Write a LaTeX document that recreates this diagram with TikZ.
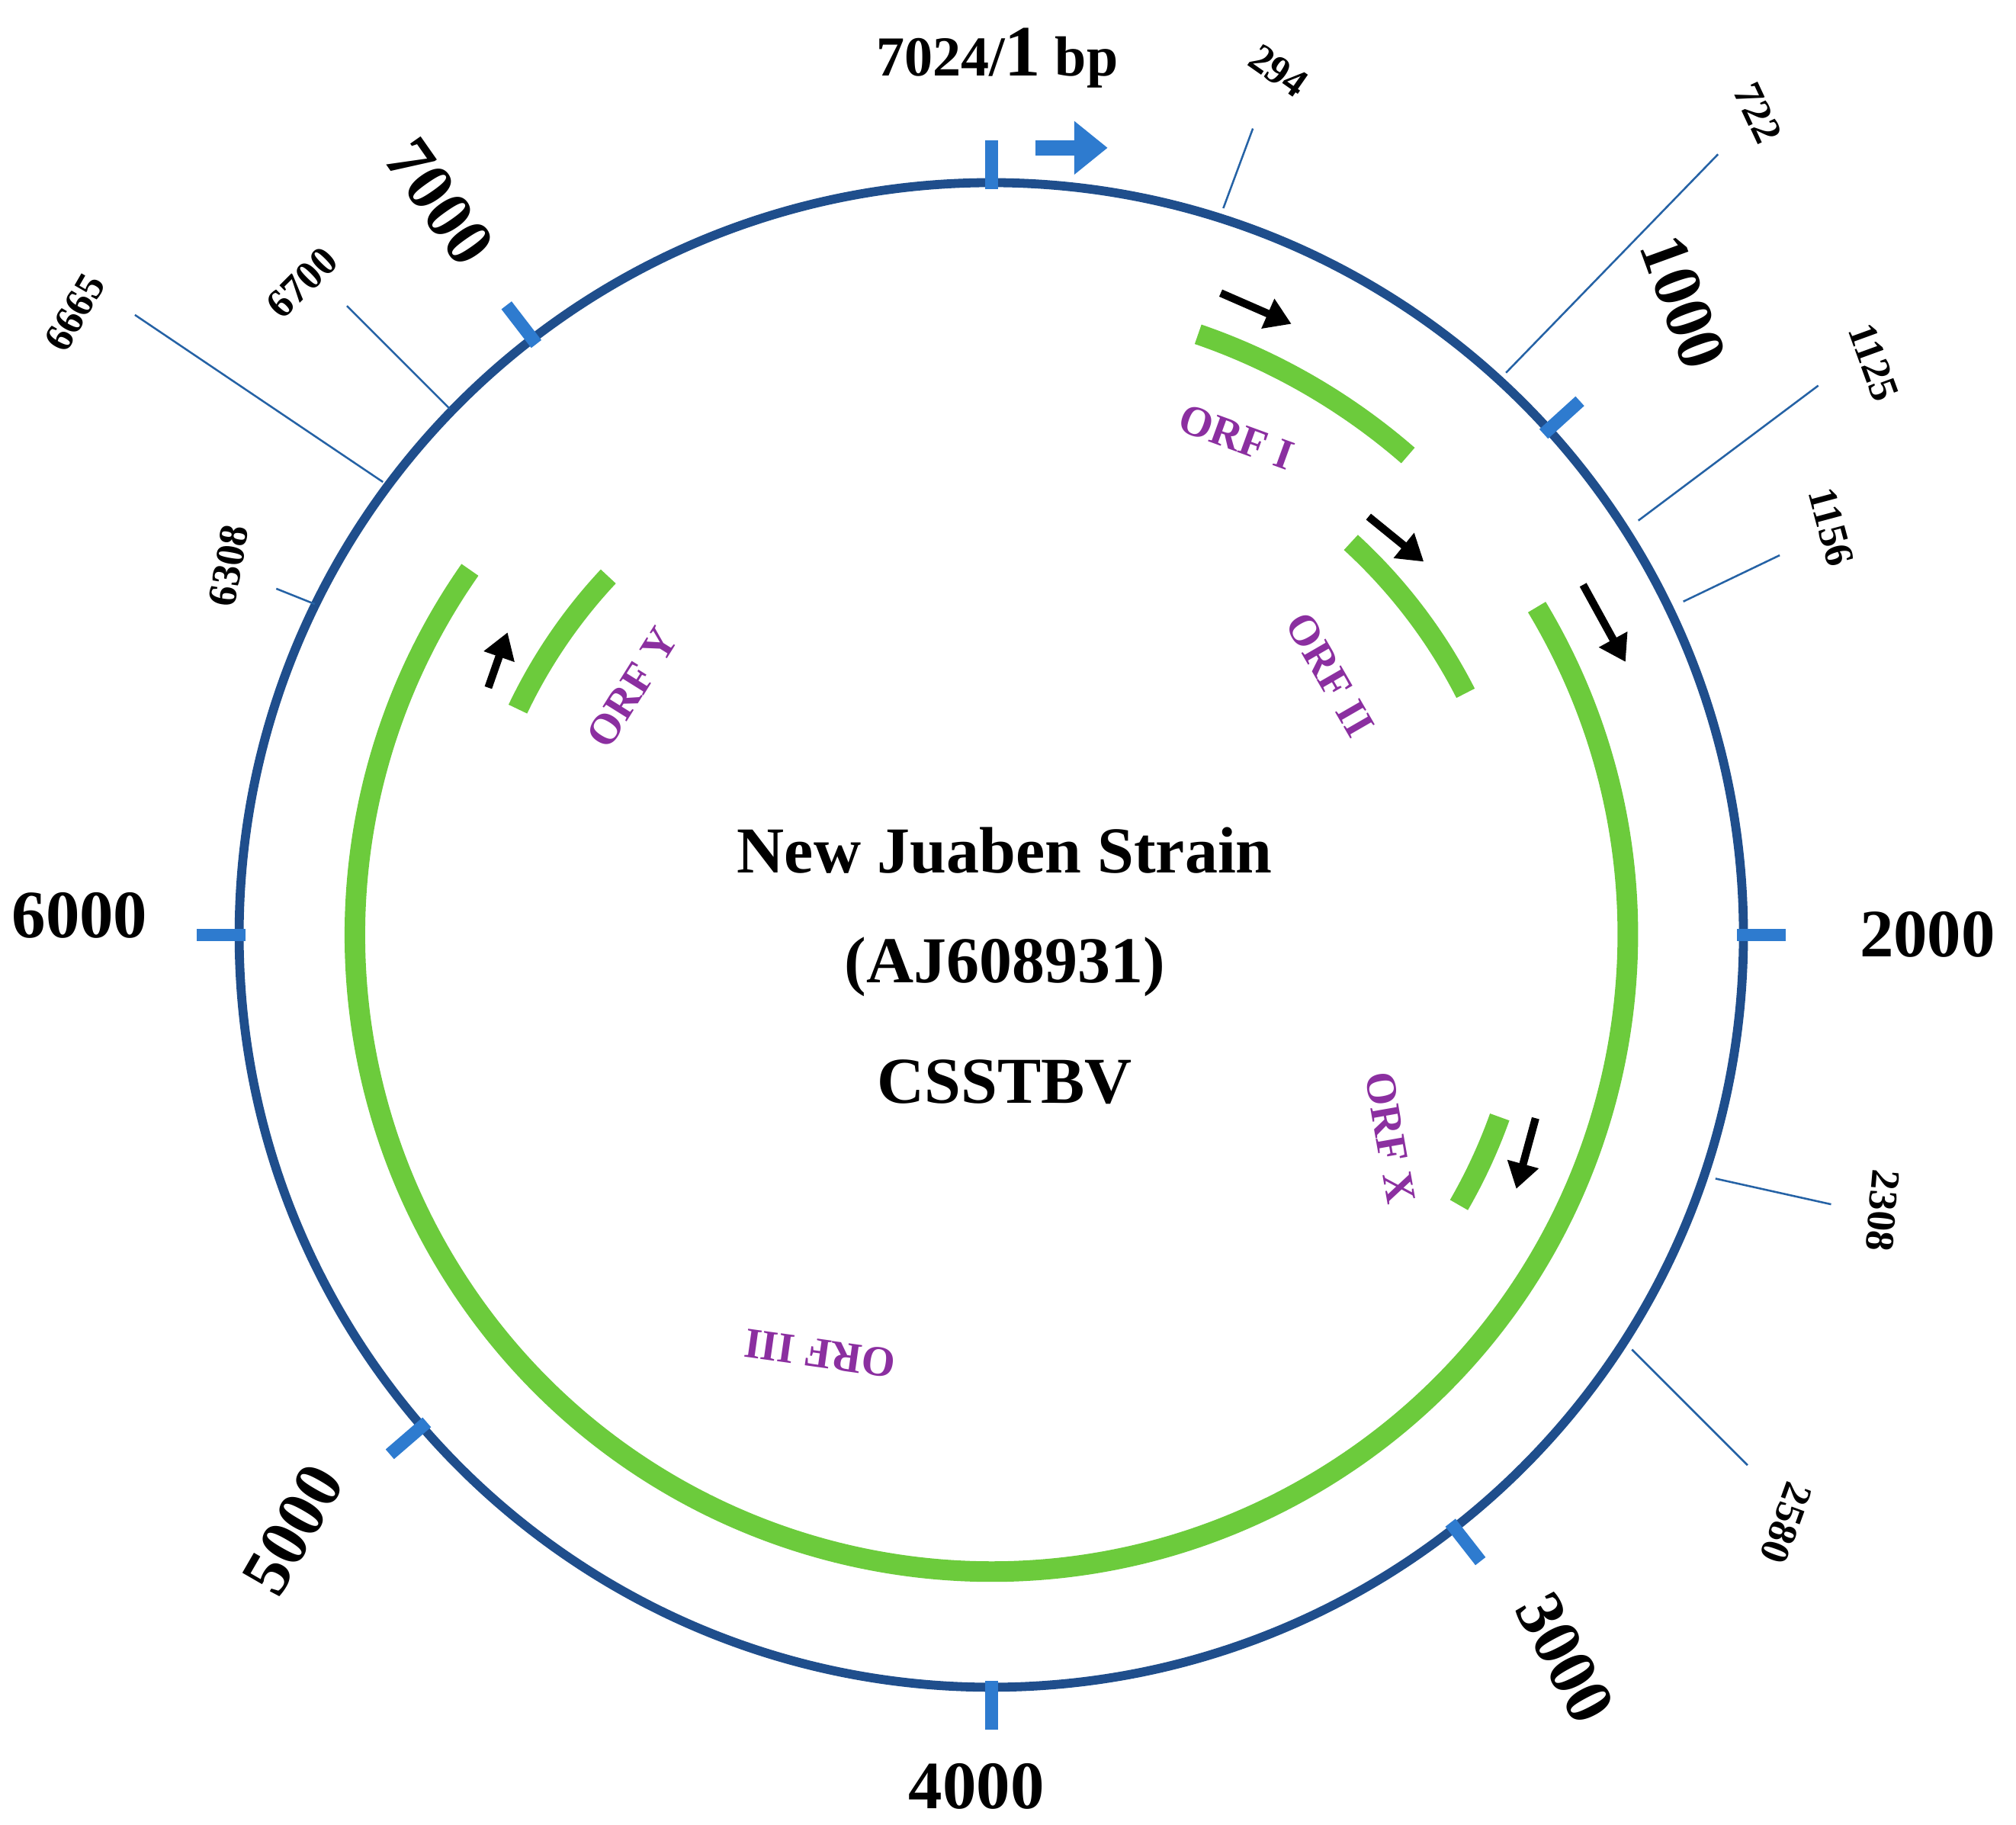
\documentclass[tikz,border=0pt]{standalone}
\usepackage{fontspec}
\setmainfont{Liberation Serif}
\usetikzlibrary{arrows.meta}
\definecolor{ring}{HTML}{1F4E8C}
\definecolor{tickb}{HTML}{2E7BCF}
\definecolor{orf}{HTML}{6CCB3C}
\definecolor{orft}{HTML}{8B2FA0}
\tikzset{
 ringl/.style={ring,line width=0.7mm},
 major/.style={tickb,line width=1mm},
 thin/.style={tickb!80!black,line width=0.15mm},
 gene/.style={orf,line width=1.6mm},
 dir/.style={black,line width=0.6mm,-{Triangle[length=2mm,width=2.4mm]}},
 big/.style={font=\bfseries\fontsize{15}{18}\selectfont},
 small/.style={font=\bfseries\fontsize{9}{11}\selectfont},
 orfl/.style={orft,font=\bfseries\fontsize{9.5}{11}\selectfont},
 title/.style={font=\bfseries\fontsize{14.5}{18}\selectfont},
}
\begin{document}
\begin{tikzpicture}
\useasboundingbox (0,0) rectangle (15.68,-14.19);
\coordinate (c) at (7.71,-7.27);
% green ORFs
\draw[gene] (c) ++(71:4.94) arc (71:49:4.94);
\draw[gene] (c) ++(47.5:4.14) arc (47.5:27:4.14);
\draw[gene] (c) ++(31:4.95) arc (31:-215:4.95);
\draw[gene] (c) ++(-19.7:4.20) arc (-19.7:-30:4.20);
\draw[gene] (c) ++(136.9:4.08) arc (136.9:154.5:4.08);
% ring
\draw[ringl] (c) circle (5.85);
% major ticks
\foreach \a in {90,42.2,0,-52,-90,220.8,180,127.6}
  \draw[major] (c) ++(\a:5.8) -- ++(\a:0.38);
\begin{scope}[x=0.01cm,y=-0.01cm]
% thin lines
\draw[thin] (952,162) -- (975,100);
\draw[thin] (1172,290) -- (1337,120);
\draw[thin] (1275,405) -- (1415,300);
\draw[thin] (1310,468) -- (1385,432);
\draw[thin] (1335,917) -- (1425,937);
\draw[thin] (1270,1050) -- (1360,1140);
\draw[thin] (245,470) -- (215,458);
\draw[thin] (298,375) -- (105,245);
\draw[thin] (350,318) -- (270,238);
% small labels
\node[small,rotate=-35] at (995,55) {294};
\node[small,rotate=-65] at (1368,88) {722};
\node[small,rotate=-70] at (1458,282) {1125};
\node[small,rotate=-75] at (1425,410) {1156};
\node[small,rotate=-95] at (1465,942) {2308};
\node[small,rotate=-110] at (1390,1185) {2580};
\node[small,rotate=80] at (178,440) {6308};
\node[small,rotate=60] at (58,243) {6665};
\node[small,rotate=45] at (235,220) {6700};
% major labels
\node[font=\bfseries\fontsize{12.5}{15}\selectfont] at (776,45) {7024/{\fontsize{16}{18}\selectfont 1} bp};
\node[big,rotate=-55] at (342,157) {7000};
\node[big,rotate=-70] at (1310,235) {1000};
\node[big] at (1500,727) {2000};
\node[big,rotate=-62] at (1218,1290) {3000};
\node[big] at (760,1390) {4000};
\node[big,rotate=60] at (228,1190) {5000};
\node[big] at (62,712) {6000};
% arrows
\draw[tickb,line width=1.2mm,-{Triangle[length=2.6mm,width=4mm]}] (806,115) -- (862,115);
\draw[dir] (950,228) -- (1005,252);
\draw[dir] (1065,402) -- (1108,437);
\draw[dir] (1232,455) -- (1265,515);
\draw[dir] (1195,870) -- (1180,925);
\draw[dir] (380,535) -- (395,492);
% ORF labels
\node[orfl,rotate=-20] at (962,340) {ORF I};
\node[orfl,rotate=-60] at (1035,525) {ORF II};
\node[orfl,rotate=-80] at (1082,885) {ORF X};
\node[orfl,rotate=172] at (638,1053) {ORF III};
\node[orfl,rotate=58] at (492,535) {ORF Y};
% title
\node[title] at (782,662) {New Juaben Strain};
\node[title] at (782,752) {(AJ608931)};
\node[title] at (782,842) {CSSTBV};
\end{scope}
\end{tikzpicture}
\end{document}
